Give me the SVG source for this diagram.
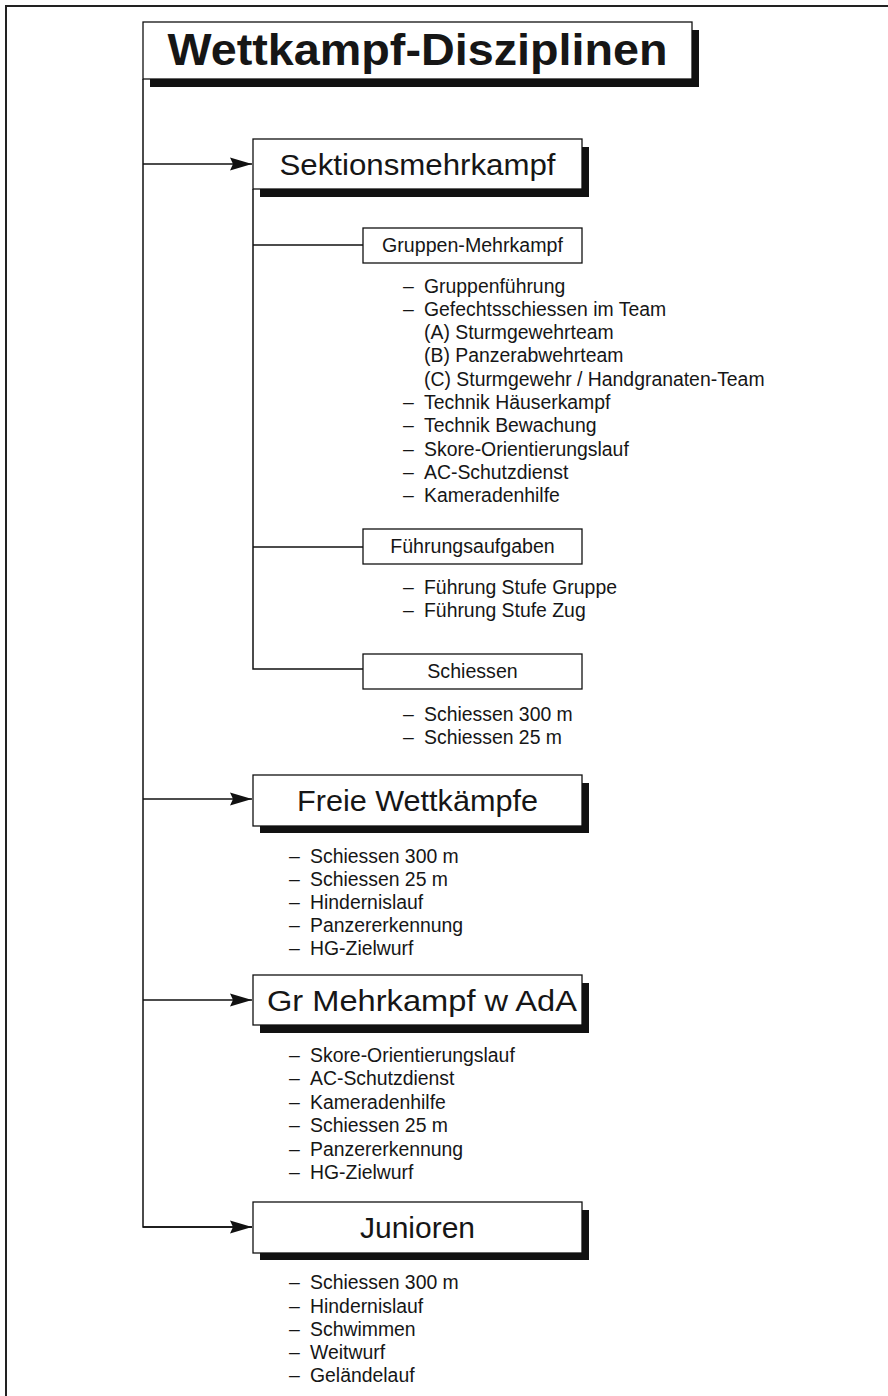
<svg xmlns="http://www.w3.org/2000/svg" width="888" height="1396" viewBox="0 0 888 1396">
<style>
.frame{stroke:#222;stroke-width:2;fill:none}
.ln{stroke:#111;stroke-width:1.5;fill:none}
.shadow{fill:#111}
.box{fill:#fff;stroke:#111;stroke-width:1.3}
.t{font-family:"Liberation Sans",Arial,Helvetica,sans-serif;fill:#161616}
.title{font-size:44px;font-weight:bold;text-anchor:middle}
.main{font-size:30px;text-anchor:middle}
.sub{font-size:19.6px;text-anchor:middle}
.item{font-size:19.4px}
</style>
<defs>
<marker id="arr" viewBox="0 0 22 14" refX="22" refY="7" markerWidth="22" markerHeight="14" markerUnits="userSpaceOnUse" orient="auto">
<path d="M0,0.5 L22,7 L0,13.5 L3,7 Z" fill="#111"/>
</marker>
</defs>
<rect width="888" height="1396" fill="#fff"/>
<path class="frame" d="M888,6 H6 V1396"/>

<g id="connectors">
<path class="ln" d="M143,79 V1227 H252"/>
<path class="ln" d="M143,164 H252" marker-end="url(#arr)"/>
<path class="ln" d="M143,799 H252" marker-end="url(#arr)"/>
<path class="ln" d="M143,1000 H252" marker-end="url(#arr)"/>
<path class="ln" d="M143,1227 H252" marker-end="url(#arr)"/>
<path class="ln" d="M253,189 V669 H363"/>
<path class="ln" d="M253,245 H363"/>
<path class="ln" d="M253,547 H363"/>
</g>

<g id="title">
<rect class="shadow" x="150" y="30" width="549" height="57"/>
<rect class="box" x="143" y="22" width="549" height="57"/>
<text class="t title" x="417.5" y="65" textLength="500" lengthAdjust="spacingAndGlyphs">Wettkampf-Disziplinen</text>
</g>

<g id="sektionsmehrkampf">
<rect class="shadow" x="260" y="147" width="329" height="50"/>
<rect class="box" x="253" y="139" width="329" height="50"/>
<text class="t main" x="417.5" y="175" textLength="276" lengthAdjust="spacingAndGlyphs">Sektionsmehrkampf</text>
</g>

<g id="gruppen-mehrkampf">
<rect class="box" x="363" y="228" width="219" height="35"/>
<text class="t sub" x="472.5" y="252">Gruppen-Mehrkampf</text>
<text class="t item"><tspan x="403" y="293">–</tspan><tspan x="424" y="293">Gruppenführung</tspan></text>
<text class="t item"><tspan x="403" y="316">–</tspan><tspan x="424" y="316">Gefechtsschiessen im Team</tspan></text>
<text class="t item" x="424" y="339">(A) Sturmgewehrteam</text>
<text class="t item" x="424" y="362">(B) Panzerabwehrteam</text>
<text class="t item" x="424" y="386">(C) Sturmgewehr / Handgranaten-Team</text>
<text class="t item"><tspan x="403" y="409">–</tspan><tspan x="424" y="409">Technik Häuserkampf</tspan></text>
<text class="t item"><tspan x="403" y="432">–</tspan><tspan x="424" y="432">Technik Bewachung</tspan></text>
<text class="t item"><tspan x="403" y="456">–</tspan><tspan x="424" y="456">Skore-Orientierungslauf</tspan></text>
<text class="t item"><tspan x="403" y="479">–</tspan><tspan x="424" y="479">AC-Schutzdienst</tspan></text>
<text class="t item"><tspan x="403" y="502">–</tspan><tspan x="424" y="502">Kameradenhilfe</tspan></text>
</g>

<g id="fuehrungsaufgaben">
<rect class="box" x="363" y="529" width="219" height="35"/>
<text class="t sub" x="472.5" y="553">Führungsaufgaben</text>
<text class="t item"><tspan x="403" y="594">–</tspan><tspan x="424" y="594">Führung Stufe Gruppe</tspan></text>
<text class="t item"><tspan x="403" y="617">–</tspan><tspan x="424" y="617">Führung Stufe Zug</tspan></text>
</g>

<g id="schiessen">
<rect class="box" x="363" y="654" width="219" height="35"/>
<text class="t sub" x="472.5" y="678">Schiessen</text>
<text class="t item"><tspan x="403" y="721">–</tspan><tspan x="424" y="721">Schiessen 300 m</tspan></text>
<text class="t item"><tspan x="403" y="744">–</tspan><tspan x="424" y="744">Schiessen 25 m</tspan></text>
</g>

<g id="freie-wettkaempfe">
<rect class="shadow" x="260" y="783" width="329" height="50"/>
<rect class="box" x="253" y="775" width="329" height="51"/>
<text class="t main" x="417.5" y="811" textLength="241" lengthAdjust="spacingAndGlyphs">Freie Wettkämpfe</text>
<text class="t item"><tspan x="289" y="863">–</tspan><tspan x="310" y="863">Schiessen 300 m</tspan></text>
<text class="t item"><tspan x="289" y="886">–</tspan><tspan x="310" y="886">Schiessen 25 m</tspan></text>
<text class="t item"><tspan x="289" y="909">–</tspan><tspan x="310" y="909">Hindernislauf</tspan></text>
<text class="t item"><tspan x="289" y="932">–</tspan><tspan x="310" y="932">Panzererkennung</tspan></text>
<text class="t item"><tspan x="289" y="955">–</tspan><tspan x="310" y="955">HG-Zielwurf</tspan></text>
</g>

<g id="gr-mehrkampf">
<rect class="shadow" x="260" y="983" width="329" height="50"/>
<rect class="box" x="253" y="975" width="329" height="50"/>
<text class="t main" x="422" y="1011" textLength="310" lengthAdjust="spacingAndGlyphs">Gr Mehrkampf w AdA</text>
<text class="t item"><tspan x="289" y="1062">–</tspan><tspan x="310" y="1062">Skore-Orientierungslauf</tspan></text>
<text class="t item"><tspan x="289" y="1085">–</tspan><tspan x="310" y="1085">AC-Schutzdienst</tspan></text>
<text class="t item"><tspan x="289" y="1109">–</tspan><tspan x="310" y="1109">Kameradenhilfe</tspan></text>
<text class="t item"><tspan x="289" y="1132">–</tspan><tspan x="310" y="1132">Schiessen 25 m</tspan></text>
<text class="t item"><tspan x="289" y="1156">–</tspan><tspan x="310" y="1156">Panzererkennung</tspan></text>
<text class="t item"><tspan x="289" y="1179">–</tspan><tspan x="310" y="1179">HG-Zielwurf</tspan></text>
</g>

<g id="junioren">
<rect class="shadow" x="260" y="1210" width="329" height="50"/>
<rect class="box" x="253" y="1202" width="329" height="51"/>
<text class="t main" x="417.5" y="1238">Junioren</text>
<text class="t item"><tspan x="289" y="1289">–</tspan><tspan x="310" y="1289">Schiessen 300 m</tspan></text>
<text class="t item"><tspan x="289" y="1313">–</tspan><tspan x="310" y="1313">Hindernislauf</tspan></text>
<text class="t item"><tspan x="289" y="1336">–</tspan><tspan x="310" y="1336">Schwimmen</tspan></text>
<text class="t item"><tspan x="289" y="1359">–</tspan><tspan x="310" y="1359">Weitwurf</tspan></text>
<text class="t item"><tspan x="289" y="1382">–</tspan><tspan x="310" y="1382">Geländelauf</tspan></text>
</g>
</svg>
